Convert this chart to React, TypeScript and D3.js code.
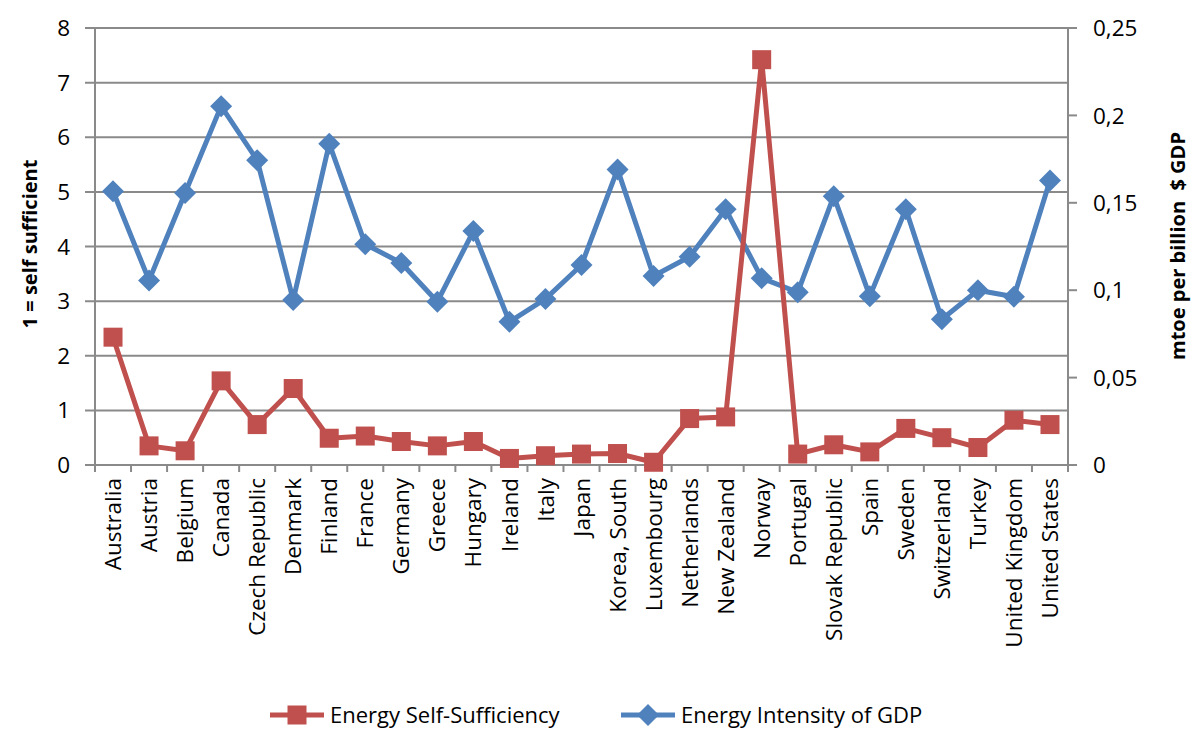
import React from "react";
import * as d3 from "d3";

const categories = [
  "Australia", "Austria", "Belgium", "Canada", "Czech Republic", "Denmark", "Finland",
  "France", "Germany", "Greece", "Hungary", "Ireland", "Italy", "Japan", "Korea, South",
  "Luxembourg", "Netherlands", "New Zealand", "Norway", "Portugal", "Slovak Republic",
  "Spain", "Sweden", "Switzerland", "Turkey", "United Kingdom", "United States",
];

const selfSufficiency = [
  2.34, 0.35, 0.26, 1.54, 0.74, 1.40, 0.49, 0.53, 0.43, 0.35, 0.43, 0.12, 0.17, 0.20,
  0.21, 0.05, 0.85, 0.88, 7.42, 0.20, 0.37, 0.24, 0.67, 0.50, 0.32, 0.82, 0.74,
];

const energyIntensity = [
  0.1566, 0.1056, 0.1556, 0.2053, 0.1744, 0.0944, 0.1838, 0.1263, 0.1156, 0.0934,
  0.1338, 0.0819, 0.095, 0.1144, 0.1691, 0.1081, 0.1191, 0.1463, 0.1069, 0.0988,
  0.1538, 0.0966, 0.1463, 0.0834, 0.1, 0.0963, 0.1628,
];

const leftTicks = [0, 1, 2, 3, 4, 5, 6, 7, 8];
const rightTicks = [0, 0.05, 0.1, 0.15, 0.2, 0.25];
const rightTickLabels = ["0", "0,05", "0,1", "0,15", "0,2", "0,25"];

const seriesNames = ["Energy Self-Sufficiency", "Energy Intensity of GDP"];

const W = 1192;
const H = 731;
const M = { left: 95, right: 1068, top: 28, bottom: 465 };
const RED = "#C0504D";
const BLUE = "#4F81BD";
const GRID = "#8A8A8A";
const FONT = "'Open Sans', sans-serif";
const FS = 22.5;
const LEG_Y = 715;

export default function App() {
  const x = d3.scaleBand<string>().domain(categories).range([M.left, M.right]);
  const yL = d3.scaleLinear().domain([0, 8]).range([M.bottom, M.top]);
  const yR = d3.scaleLinear().domain([0, 0.25]).range([M.bottom, M.top]);
  const cx = (c: string) => (x(c) as number) + x.bandwidth() / 2;

  const redLine = d3
    .line<number>()
    .x((_, i) => cx(categories[i]))
    .y((d) => yL(d))(selfSufficiency) as string;
  const blueLine = d3
    .line<number>()
    .x((_, i) => cx(categories[i]))
    .y((d) => yR(d))(energyIntensity) as string;

  const sq = 19;
  const dia = 11;
  const diamond = (px: number, py: number) =>
    `M${px},${py - dia}L${px + dia},${py}L${px},${py + dia}L${px - dia},${py}Z`;

  const boundaries = d3.range(categories.length + 1).map((i) => M.left + i * x.bandwidth());

  return (
    <svg
      width={W}
      height={H}
      style={{ position: "absolute", left: 0, top: 0, background: "#fff" }}
      fontFamily={FONT}
    >
      <rect x={0} y={0} width={W} height={H} fill="#fff" />
      {leftTicks.map((t) => (
        <line key={"g" + t} x1={M.left - 10} x2={M.right} y1={yL(t)} y2={yL(t)} stroke={GRID} strokeWidth={2} />
      ))}
      <line x1={M.left} x2={M.left} y1={M.top} y2={M.bottom} stroke={GRID} strokeWidth={2} />
      {leftTicks.map((t) => (
        <text key={"lt" + t} x={70} y={yL(t)} dy="0.36em" textAnchor="end" fontSize={FS} fill="#000">
          {t}
        </text>
      ))}
      <line x1={M.right} x2={M.right} y1={M.top} y2={M.bottom} stroke={GRID} strokeWidth={2} />
      {rightTicks.map((t, i) => (
        <g key={"rt" + t}>
          <line x1={M.right} x2={M.right + 9} y1={yR(t)} y2={yR(t)} stroke={GRID} strokeWidth={2} />
          <text x={1093} y={yR(t)} dy="0.36em" textAnchor="start" fontSize={FS} fill="#000">
            {rightTickLabels[i]}
          </text>
        </g>
      ))}
      {boundaries.map((b, i) => (
        <line key={"xt" + i} x1={b} x2={b} y1={M.bottom} y2={M.bottom + 7} stroke={GRID} strokeWidth={2} />
      ))}
      {categories.map((c) => (
        <text
          key={"xl" + c}
          transform={`translate(${cx(c)},478) rotate(-90)`}
          dy="0.36em"
          textAnchor="end"
          fontSize={FS}
          fill="#000"
        >
          {c}
        </text>
      ))}
      <text
        transform={`translate(30,244) rotate(-90)`}
        dy="0.36em"
        textAnchor="middle"
        fontSize={20}
        fontWeight="bold"
        fill="#000"
      >
        1 = self sufficient
      </text>
      <text
        transform={`translate(1178,246) rotate(-90)`}
        dy="0.36em"
        textAnchor="middle"
        fontSize={20}
        fontWeight="bold"
        fill="#000"
        style={{ whiteSpace: "pre" }}
      >
        {"mtoe per billion  $ GDP"}
      </text>
      <path d={blueLine} fill="none" stroke={BLUE} strokeWidth={5} strokeLinejoin="round" />
      {energyIntensity.map((v, i) => (
        <path key={"bd" + i} d={diamond(cx(categories[i]), yR(v))} fill={BLUE} />
      ))}
      <path d={redLine} fill="none" stroke={RED} strokeWidth={5} strokeLinejoin="round" />
      {selfSufficiency.map((v, i) => (
        <rect key={"rs" + i} x={cx(categories[i]) - sq / 2} y={yL(v) - sq / 2} width={sq} height={sq} fill={RED} />
      ))}
      <g>
        <line x1={270} x2={324} y1={LEG_Y} y2={LEG_Y} stroke={RED} strokeWidth={5} />
        <rect x={297 - sq / 2} y={LEG_Y - sq / 2} width={sq} height={sq} fill={RED} />
        <text x={330} y={LEG_Y} dy="0.36em" fontSize={22} fill="#000">
          {seriesNames[0]}
        </text>
        <line x1={621} x2={675} y1={LEG_Y} y2={LEG_Y} stroke={BLUE} strokeWidth={5} />
        <path d={diamond(648, LEG_Y)} fill={BLUE} />
        <text x={681} y={LEG_Y} dy="0.36em" fontSize={22} fill="#000">
          {seriesNames[1]}
        </text>
      </g>
    </svg>
  );
}
